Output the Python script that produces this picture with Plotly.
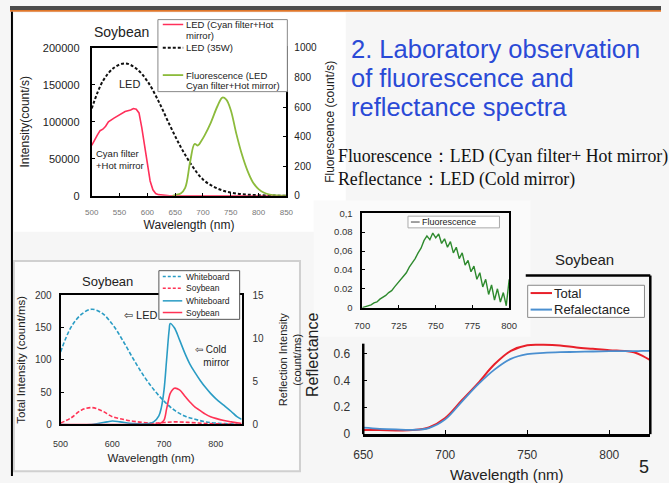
import plotly.graph_objects as go

W, H = 669, 483

# ---------------- data: chart 1 (LED spectra + fluorescence) ----------------
led_wl = [500, 520, 540, 560, 580, 600, 620, 640, 660, 680, 700, 720, 740, 760, 780, 800, 825, 850]
led_35w = [118000, 155000, 173000, 179000, 172000, 155000, 128000, 96000, 66000, 41000, 22000, 12000, 6000, 3000, 1500, 800, 300, 0]

cyan_wl = [500, 505, 510, 515, 520, 525, 530, 540, 550, 560, 570, 575, 580, 585, 590, 595, 600, 605, 610, 615, 620, 630, 640, 700, 800, 850]
cyan_led = [68000, 76000, 82000, 88000, 90000, 94000, 100000, 105000, 109000, 114000, 116000, 118000, 117000, 112000, 92000, 66000, 40000, 20000, 8000, 3000, 1500, 500, 0, 0, 0, 0]

fl_wl = [645, 650, 660, 668, 677, 685, 691, 697, 703, 714, 726, 735, 742, 750, 760, 770, 780, 790, 800, 810, 820, 835, 850]
fl_val = [0, 5, 15, 53, 230, 350, 340, 370, 408, 493, 605, 664, 650, 580, 420, 280, 170, 90, 45, 20, 8, 2, 0]

# ---------------- data: chart 2 (whiteboard / soybean intensities) ----------------
tot_wl = [500, 520, 540, 560, 580, 600, 620, 640, 660, 680, 700, 720, 740, 760, 780, 800, 825, 850]
wb_total = [112, 150, 170, 178, 172, 155, 130, 102, 76, 54, 36, 22, 13, 8, 4, 2, 1, 0]
sb_total = [2, 10, 22, 26, 21, 12, 8, 5, 3, 2, 3, 4, 3.5, 2.5, 1.5, 1, 0.5, 0]

ref_wl = [500, 560, 590, 600, 615, 640, 670, 680, 690, 695, 700, 705, 710, 712, 720, 730, 740, 750, 760, 770, 780, 790, 800, 816, 830, 841, 850]
wb_refl = [0, 0, 0.3, 0.4, 0.3, 0.1, 0.1, 0.3, 1.0, 2.0, 4.0, 7.5, 11.0, 11.7, 11.2, 9.8, 8.3, 7.0, 6.0, 5.1, 4.3, 3.6, 3.0, 2.2, 1.5, 0.9, 0.6]
sb_refl = [0, 0, 0, 0, 0, 0, 0, 0, 0.05, 0.2, 0.5, 1.8, 3.2, 3.6, 4.2, 4.0, 3.3, 2.6, 2.0, 1.6, 1.2, 0.9, 0.7, 0.45, 0.3, 0.2, 0.1]

# ---------------- data: inset (fluorescence ratio) ----------------
ins_wl = [700, 702, 704, 706, 708, 710, 712, 714, 716, 718, 720, 722, 724, 726, 728, 730, 732, 734, 736, 738,
          740, 742, 744, 746, 748, 750, 752, 754, 756, 758, 760, 762, 764, 766, 768, 770, 772, 774, 776, 778,
          780, 782, 784, 786, 788, 790, 792, 794, 796, 798, 800]
ins_fl = [0.000, 0.001, 0.002, 0.003, 0.005, 0.006, 0.009, 0.011, 0.013, 0.016, 0.018, 0.022, 0.026, 0.029, 0.034, 0.037, 0.043, 0.047, 0.052, 0.058,
          0.063, 0.071, 0.076, 0.072, 0.079, 0.074, 0.078, 0.068, 0.073, 0.064, 0.070, 0.058, 0.064, 0.052, 0.058, 0.045, 0.050, 0.038, 0.044, 0.030,
          0.037, 0.022, 0.030, 0.014, 0.024, 0.008, 0.020, 0.006, 0.016, 0.002, 0.030]

# ---------------- data: main reflectance ----------------
rf_wl = [650, 660, 670, 680, 690, 700, 710, 720, 730, 740, 750, 760, 770, 780, 790, 800, 810, 815, 820, 825]
rf_total = [0.030, 0.030, 0.028, 0.030, 0.050, 0.120, 0.250, 0.380, 0.520, 0.620, 0.662, 0.665, 0.660, 0.645, 0.635, 0.625, 0.618, 0.610, 0.585, 0.550]
rf_refl = [0.048, 0.040, 0.035, 0.032, 0.045, 0.110, 0.240, 0.370, 0.480, 0.560, 0.595, 0.605, 0.610, 0.612, 0.615, 0.617, 0.618, 0.618, 0.619, 0.620]

title_lines = ["2. Laboratory observation", "of fluorescence and", "reflectance spectra"]
note_lines = ["Fluorescence\uff1aLED (Cyan filter+ Hot mirror)", "Reflectance\uff1aLED (Cold mirror)"]


def px(x):
    return x / W


def py(y):
    return 1 - y / H


def dx(a, b):
    return [px(a), px(b)]


def dy(top, bottom):
    return [py(bottom), py(top)]


SANS = "Liberation Sans, Arial, sans-serif"
SERIF = "Liberation Serif, Times New Roman, serif"

C_RED1, C_GREEN1 = "#ff2f5a", "#8cbb3c"
C_BLUE2, C_RED2 = "#2a9cc4", "#ff3355"
C_RED4, C_BLUE4 = "#e8202a", "#4a8fd0"
C_GREEN3 = "#2e8a2e"

fig = go.Figure()

# chart 1
fig.add_trace(go.Scatter(x=cyan_wl, y=cyan_led, mode="lines", name="LED (Cyan filter+Hot mirror)",
                         line=dict(color=C_RED1, width=1.6), xaxis="x", yaxis="y"))
fig.add_trace(go.Scatter(x=led_wl, y=led_35w, mode="lines", name="LED (35W)", line_shape="spline",
                         line=dict(color="#111111", width=2, dash="3px,2px"), xaxis="x", yaxis="y"))
fig.add_trace(go.Scatter(x=fl_wl, y=fl_val, mode="lines", name="Fluorescence (LED Cyan filter+Hot mirror)", line_shape="spline",
                         line=dict(color=C_GREEN1, width=1.8), xaxis="x", yaxis="y2"))

# chart 2
fig.add_trace(go.Scatter(x=tot_wl, y=wb_total, mode="lines", name="Whiteboard", line_shape="spline",
                         line=dict(color=C_BLUE2, width=1.6, dash="4px,2px"), xaxis="x2", yaxis="y3"))
fig.add_trace(go.Scatter(x=tot_wl, y=sb_total, mode="lines", name="Soybean", line_shape="spline",
                         line=dict(color=C_RED2, width=1.6, dash="4px,2px"), xaxis="x2", yaxis="y3"))
fig.add_trace(go.Scatter(x=ref_wl, y=wb_refl, mode="lines", name="Whiteboard", line_shape="spline",
                         line=dict(color=C_BLUE2, width=1.6), xaxis="x2", yaxis="y4"))
fig.add_trace(go.Scatter(x=ref_wl, y=sb_refl, mode="lines", name="Soybean", line_shape="spline",
                         line=dict(color=C_RED2, width=1.6), xaxis="x2", yaxis="y4"))

# main reflectance
fig.add_trace(go.Scatter(x=rf_wl, y=rf_total, mode="lines", name="Total", line_shape="spline",
                         line=dict(color=C_RED4, width=2), xaxis="x3", yaxis="y5"))
fig.add_trace(go.Scatter(x=rf_wl, y=rf_refl, mode="lines", name="Refalectance", line_shape="spline",
                         line=dict(color=C_BLUE4, width=1.8), xaxis="x3", yaxis="y5"))

# inset
fig.add_trace(go.Scatter(x=ins_wl, y=ins_fl, mode="lines", name="Fluorescence",
                         line=dict(color=C_GREEN3, width=1.4), xaxis="x4", yaxis="y6"))

ax_common = dict(showgrid=False, zeroline=False, linecolor="black", tickcolor="black")

fig.update_layout(
    width=W, height=H, margin=dict(l=0, r=0, t=0, b=0),
    paper_bgcolor="#f6f6f6", plot_bgcolor="rgba(0,0,0,0)",
    font=dict(family=SANS, color="#222222"),
    showlegend=False,
    # chart 1
    xaxis=dict(domain=dx(84, 284), anchor="y", range=[500, 850], tickvals=[500, 550, 600, 650, 700, 750, 800, 850],
               showline=True, linewidth=2, mirror=True, ticks="inside", ticklen=3, ticklabelstandoff=8,
               tickfont=dict(size=8, color="#777777"),
               title=dict(text="Wavelength (nm)", font=dict(size=12, color="#222"), standoff=4), **ax_common),
    yaxis=dict(domain=dy(43, 195), anchor="x", range=[0, 200000], tickvals=[0, 50000, 100000, 150000, 200000],
               tickformat="d", showline=True, linewidth=2, mirror=True, ticks="inside", ticklen=3, ticklabelstandoff=8,
               tickfont=dict(size=11, color="#222"),
               title=dict(text="Intensity(count/s)", font=dict(size=12, color="#222"), standoff=11), **ax_common),
    yaxis2=dict(overlaying="y", side="right", anchor="x", range=[0, 1000], tickvals=[0, 200, 400, 600, 800, 1000],
                showline=True, linewidth=2, ticks="inside", ticklen=3, ticklabelstandoff=4,
                tickfont=dict(size=10, color="#222"),
                title=dict(text="Fluorescence (count/s)", font=dict(size=12, color="#222"), standoff=10), **ax_common),
    # chart 2
    xaxis2=dict(domain=dx(52, 238), anchor="y3", range=[500, 850], tickvals=[500, 600, 700, 800],
                showline=True, linewidth=1.8, mirror=True, ticks="", ticklabelstandoff=10,
                tickfont=dict(size=9, color="#333"),
                title=dict(text="Wavelength (nm)", font=dict(size=11.5, color="#222"), standoff=6), **ax_common),
    yaxis3=dict(domain=dy(297, 430), anchor="x2", range=[0, 200], tickvals=[0, 50, 100, 150, 200],
                showline=True, linewidth=1.8, mirror=True, ticks="inside", ticklen=3, ticklabelstandoff=5,
                tickfont=dict(size=10, color="#333"),
                title=dict(text="Total Intensity (count/ms)", font=dict(size=11.5, color="#222"), standoff=7), **ax_common),
    yaxis4=dict(overlaying="y3", side="right", anchor="x2", range=[0, 15], tickvals=[0, 5, 10, 15],
                showline=True, linewidth=1.8, ticks="", ticklabelstandoff=7,
                tickfont=dict(size=10, color="#333"),
                title=dict(text="Reflection Intensity<br>(count/ms)", font=dict(size=11, color="#222"), standoff=16), **ax_common),
    # main reflectance
    xaxis3=dict(domain=dx(363, 658), anchor="y5", range=[650, 825], tickvals=[650, 700, 750, 800],
                showline=True, linewidth=2.5, ticks="inside", ticklen=4, ticklabelstandoff=8,
                tickfont=dict(size=12, color="#333"),
                title=dict(text="Wavelength (nm)", font=dict(size=15, color="#222"), standoff=10), **ax_common),
    yaxis5=dict(domain=dy(277, 440), anchor="x3", range=[0, 1.18], tickvals=[0, 0.2, 0.4, 0.6],
                showline=False, ticks="inside", ticklen=4, ticklabelstandoff=12,
                tickfont=dict(size=12, color="#333"),
                title=dict(text="Reflectance", font=dict(size=16, color="#222"), standoff=10), **ax_common),
    # inset
    xaxis4=dict(domain=dx(362, 513), anchor="y6", range=[700, 800], tickvals=[700, 725, 750, 775, 800],
                showline=True, linewidth=1.5, mirror=True, ticks="inside", ticklen=3, ticklabelstandoff=8,
                tickfont=dict(size=9.5, color="#333"), **ax_common),
    yaxis6=dict(domain=dy(213, 310), anchor="x4", range=[0, 0.1], tickvals=[0, 0.02, 0.04, 0.06, 0.08, 0.1],
                ticktext=["0", "0.02", "0.04", "0,06", "0.08", "0,1"],
                showline=True, linewidth=1.5, mirror=True, ticks="inside", ticklen=3, ticklabelstandoff=6,
                tickfont=dict(size=9.5, color="#333"), **ax_common),
)

shapes = [
    # top dark bar and orange line
    dict(type="rect", xref="paper", yref="paper", x0=0, x1=1, y0=py(4), y1=1, fillcolor="#4b4b4b", line_width=0, layer="below"),
    dict(type="rect", xref="paper", yref="paper", x0=0, x1=1, y0=py(6), y1=py(4), fillcolor="#e0762a", line_width=0, layer="below"),
    # left border
    dict(type="line", xref="paper", yref="paper", x0=px(2), x1=px(2), y0=0, y1=py(6), line=dict(color="black", width=2)),
    # chart 1 panel
    dict(type="rect", xref="paper", yref="paper", x0=px(4), x1=px(345), y0=py(232), y1=py(7), fillcolor="white", line_width=0, layer="below"),
    # chart 2 panel
    dict(type="rect", xref="paper", yref="paper", x0=px(4), x1=px(298), y0=py(478), y1=py(262), fillcolor="#fbfbfb",
         line=dict(color="#d0d0d0", width=2), layer="below"),
    # inset panel background
    dict(type="rect", xref="paper", yref="paper", x0=px(312), x1=px(535), y0=py(340), y1=py(200), fillcolor="#fafafa", line_width=0, layer="below"),
    # main reflectance frame (left part hidden behind inset)
    dict(type="line", xref="paper", yref="paper", x0=px(363), x1=px(363), y0=py(440), y1=py(347), line=dict(color="black", width=2.5)),
    dict(type="line", xref="paper", yref="paper", x0=px(530), x1=px(658), y0=py(277), y1=py(277), line=dict(color="black", width=2.5)),
    dict(type="line", xref="paper", yref="paper", x0=px(658), x1=px(658), y0=py(440), y1=py(277), line=dict(color="black", width=2.5)),
]

ann = [
    dict(text="Soybean", x=px(115), y=py(27), font=dict(size=14, color="#222")),
    dict(text="LED", x=px(123), y=py(80), font=dict(size=11, color="#222")),
    dict(text="Cyan filter<br>+Hot mirror", x=px(86), y=py(158), xanchor="left", align="left", font=dict(size=9.5, color="#222")),
    dict(text="Soybean", x=px(100), y=py(283), font=dict(size=13, color="#222")),
    dict(text="\u21e6 LED", x=px(135), y=py(318), font=dict(size=11, color="#222")),
    dict(text="\u21e6 Cold<br>   mirror", x=px(208), y=py(360), align="left", font=dict(size=10, color="#222")),
    dict(text="Soybean", x=px(590), y=py(260), font=dict(size=15, color="#222")),
    dict(text="5", x=px(652), y=py(474), font=dict(size=18, color="#222")),
]
for i, (t, yc) in enumerate(zip(title_lines, [44, 74, 104])):
    ann.append(dict(text=t, x=px(348), y=py(yc), xanchor="left", font=dict(size=25.5, color="#2a4ad6")))
for t, yc in zip(note_lines, [155, 178]):
    ann.append(dict(text=t, x=px(335), y=py(yc), xanchor="left", font=dict(size=17.8, family=SERIF, color="#111")))


def add_legend(box, entries, fsize, s0, s1, tx, border="#888"):
    """box = (x0, y0, x1, y1) pixels; entries = [(y_line, color, dash, width, [(text, y), ...])]"""
    x0, y0, x1, y1 = box
    shapes.append(dict(type="rect", xref="paper", yref="paper", x0=px(x0), x1=px(x1), y0=py(y1), y1=py(y0),
                       fillcolor="white", line=dict(color=border, width=1)))
    for yl, col, dash, w, texts in entries:
        shapes.append(dict(type="line", xref="paper", yref="paper", x0=px(s0), x1=px(s1), y0=py(yl), y1=py(yl),
                           line=dict(color=col, width=w, dash=dash)))
        for t, yt in texts:
            ann.append(dict(text=t, x=px(tx), y=py(yt), xanchor="left", font=dict(size=fsize, color="#222")))


add_legend((152, 14, 285, 88), [
    (19, C_RED1, "solid", 1.5, [("LED (Cyan filter+Hot", 19), ("mirror)", 30)]),
    (43, "#111", "3px,2px", 2, [("LED (35W)", 43)]),
    (71, C_GREEN1, "solid", 1.8, [("Fluorescence (LED", 71), ("Cyan filter+Hot mirror)", 82)]),
], 9.5, 157, 178, 179)

add_legend((153, 272, 236, 322), [
    (278, C_BLUE2, "3px,2px", 1.5, [("Whiteboard", 278)]),
    (290, C_RED2, "3px,2px", 1.5, [("Soybean", 290)]),
    (303, C_BLUE2, "solid", 1.5, [("Whiteboard", 303)]),
    (315, C_RED2, "solid", 1.5, [("Soybean", 315)]),
], 8.5, 157, 177, 179, border="#555")

add_legend((409, 216, 503, 228), [
    (222, "#444", "solid", 1, [("Fluorescence", 222)]),
], 9, 412, 421, 421, border="#aaa")

add_legend((532, 287, 652, 320), [
    (295, C_RED4, "solid", 2, [("Total", 295)]),
    (312, C_BLUE4, "solid", 2, [("Refalectance", 312)]),
], 13, 535, 557, 557)

for a in ann:
    a.setdefault("xref", "paper")
    a.setdefault("yref", "paper")
    a.setdefault("showarrow", False)
    a.setdefault("xanchor", "center")
    a.setdefault("yanchor", "middle")
fig.update_layout(shapes=shapes, annotations=ann)

fig.write_html("out.html")
